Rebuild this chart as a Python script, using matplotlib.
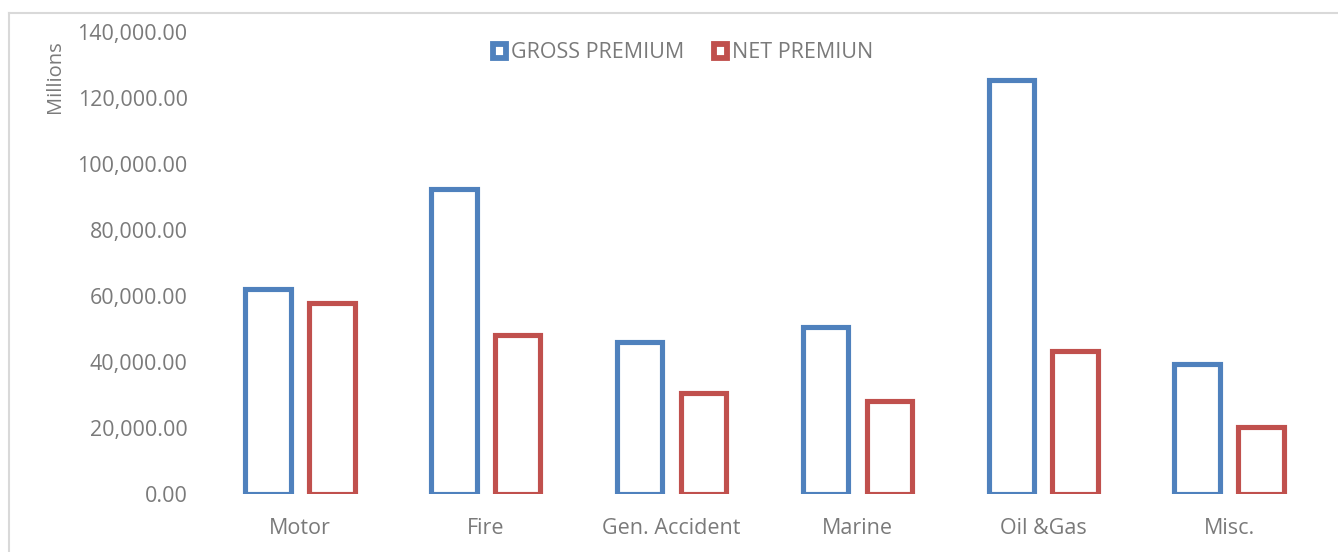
import matplotlib
matplotlib.use("Agg")
import matplotlib.pyplot as plt
import numpy as np
from matplotlib.patches import Rectangle
from matplotlib.lines import Line2D
from matplotlib.ticker import FuncFormatter

categories = ["Motor", "Fire", "Gen. Accident", "Marine", "Oil &Gas", "Misc."]
gross_premium = [62000, 92500, 46000, 50700, 125500, 39500]
net_premium = [58000, 48200, 30500, 28300, 43200, 20300]
series_names = ["GROSS PREMIUM", "NET PREMIUN"]

BLUE = "#4F81BD"
RED = "#C0504D"
GRAY = "#7A7A7A"
FONT = "Open Sans"

W, H = 1338, 552
fig = plt.figure(figsize=(W / 100, H / 100), dpi=100)
ax = fig.add_axes([207 / W, (H - 494) / H, 1115 / W, 462 / H])

x = np.arange(len(categories))
bw = 0.245
off = 0.172
ax.bar(x - off, gross_premium, width=bw, facecolor="white", edgecolor=BLUE, linewidth=3.7)
ax.bar(x + off, net_premium, width=bw, facecolor="white", edgecolor=RED, linewidth=3.7)

ax.set_xlim(-0.5, len(categories) - 0.5)
ax.set_ylim(0, 140000)
ax.set_yticks(np.arange(0, 140001, 20000))
ax.yaxis.set_major_formatter(FuncFormatter(lambda v, p: f"{v:,.2f}"))
ax.set_xticks(x)
ax.set_xticklabels(categories)
for s in ax.spines.values():
    s.set_visible(False)
ax.tick_params(axis="both", length=0, colors=GRAY, labelsize=15.5)
ax.tick_params(axis="y", pad=14)
ax.tick_params(axis="x", pad=17)
for lab in ax.get_xticklabels() + ax.get_yticklabels():
    lab.set_fontfamily(FONT)
    lab.set_color(GRAY)

handles = [Rectangle((0, 0), 1, 1, facecolor="white", edgecolor=BLUE, linewidth=4.2),
           Rectangle((0, 0), 1, 1, facecolor="white", edgecolor=RED, linewidth=4.2)]
leg = fig.legend(handles, series_names, loc="center", bbox_to_anchor=(683 / W, 1 - 53 / H),
                 ncol=2, frameon=False, handlelength=0.62, handleheight=0.62,
                 handletextpad=0.2, columnspacing=1.4,
                 prop={"family": FONT, "size": 15.5})
for t in leg.get_texts():
    t.set_color(GRAY)

fig.text(55 / W, 1 - 77 / H, "Millions", rotation=90, ha="center", va="center",
         color=GRAY, fontsize=14.5, fontfamily=FONT)

fig.add_artist(Line2D([9 / W, 9 / W], [0, 1 - 13 / H], transform=fig.transFigure,
                      color="#D9D9D9", linewidth=1.5))
fig.add_artist(Line2D([9 / W, 1], [1 - 13 / H, 1 - 13 / H], transform=fig.transFigure,
                      color="#D9D9D9", linewidth=1.5))

fig.savefig("out.png", dpi=100)
